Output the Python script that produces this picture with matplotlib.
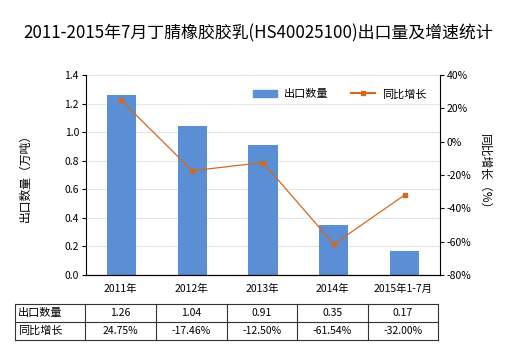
import matplotlib
matplotlib.use("Agg")
import matplotlib.pyplot as plt
from matplotlib.lines import Line2D
from matplotlib.ticker import FuncFormatter

plt.rcParams['font.family'] = ['Noto Sans CJK SC', 'DejaVu Sans']

categories = ["2011年", "2012年", "2013年", "2014年", "2015年1-7月"]
export_qty = [1.26, 1.04, 0.91, 0.35, 0.17]
growth = [24.75, -17.46, -12.50, -61.54, -32.00]
qty_labels = ["1.26", "1.04", "0.91", "0.35", "0.17"]
growth_labels = ["24.75%", "-17.46%", "-12.50%", "-61.54%", "-32.00%"]

W, H = 520, 350
fig = plt.figure(figsize=(5.2, 3.5), dpi=100)
x0, x1, y0, y1 = 86, 440, 75, 275
ax = fig.add_axes([x0 / W, 1 - y1 / H, (x1 - x0) / W, (y1 - y0) / H])
ax2 = ax.twinx()

bar_color = "#5A8ED5"
line_color = "#D2691E"
xs = list(range(len(categories)))
ax.bar(xs, export_qty, width=0.41, color=bar_color, zorder=2)
ax.set_xlim(-0.5, len(categories) - 0.5)
ax.set_ylim(0, 1.4)
ax.set_yticks([i * 0.2 for i in range(8)])
ax.yaxis.set_major_formatter(FuncFormatter(lambda v, p: f"{v:.1f}"))
ax.grid(axis='y', color="#E6E6E6", linewidth=0.8, zorder=0)
ax.set_axisbelow(True)
ax.set_xticks(xs)
ax.set_xticklabels([])
ax.tick_params(axis='x', length=0)
ax.tick_params(axis='y', labelsize=7.5, length=3, pad=2)

ax2.plot(xs, growth, color=line_color, linewidth=0.9, marker='s', markersize=3, zorder=3)
ax2.set_ylim(-80, 40)
ax2.set_yticks(range(-80, 41, 20))
ax2.yaxis.set_major_formatter(FuncFormatter(lambda v, p: f"{int(v)}%"))
ax2.tick_params(axis='y', labelsize=7.5, length=3, pad=2)

for a in (ax, ax2):
    a.spines['top'].set_visible(False)
    a.spines['left'].set_color('black')
    a.spines['right'].set_color('black')
    a.spines['bottom'].set_color('black')
ax.spines['right'].set_visible(False)
ax2.spines['left'].set_visible(False)

ax.set_ylabel("出口数量（万吨）", fontsize=8.5, labelpad=24)
ax2.set_ylabel("同比增长（%）", fontsize=8.5, rotation=-90, labelpad=14)

fig.text(258 / W, 1 - 33 / H, "2011-2015年7月丁腈橡胶胶乳(HS40025100)出口量及增速统计",
         ha='center', va='center', fontsize=12.2)

handles = [plt.Rectangle((0, 0), 1, 1, color=bar_color),
           Line2D([0], [0], color=line_color, marker='s', markersize=3, linewidth=1.5)]
leg = ax.legend(handles, ["出口数量", "同比增长"], loc='upper right', bbox_to_anchor=(0.99, 0.98),
                ncol=2, frameon=False, fontsize=8, handlelength=2.2, columnspacing=2.0,
                handletextpad=0.6)

# category labels
col_x = [15, 85, 156, 227, 297, 368, 438]
for i, c in enumerate(categories):
    cx = (col_x[i + 1] + col_x[i + 2]) / 2
    fig.text(cx / W, 1 - 289 / H, c, ha='center', va='center', fontsize=7.5)

# table
row_y = [304, 322, 340]
for yy in row_y:
    fig.add_artist(Line2D([col_x[0] / W, col_x[-1] / W], [1 - yy / H, 1 - yy / H],
                          color='#333333', linewidth=0.8))
for xx in col_x:
    fig.add_artist(Line2D([xx / W, xx / W], [1 - row_y[0] / H, 1 - row_y[-1] / H],
                          color='#333333', linewidth=0.8))
row_names = ["出口数量", "同比增长"]
row_vals = [qty_labels, growth_labels]
for r in range(2):
    cy = (row_y[r] + row_y[r + 1]) / 2
    fig.text((col_x[0] + 3) / W, 1 - cy / H, row_names[r], ha='left', va='center', fontsize=8)
    for i, v in enumerate(row_vals[r]):
        cx = (col_x[i + 1] + col_x[i + 2]) / 2
        fig.text(cx / W, 1 - cy / H, v, ha='center', va='center', fontsize=7.5)

fig.savefig("out.png", dpi=100)
